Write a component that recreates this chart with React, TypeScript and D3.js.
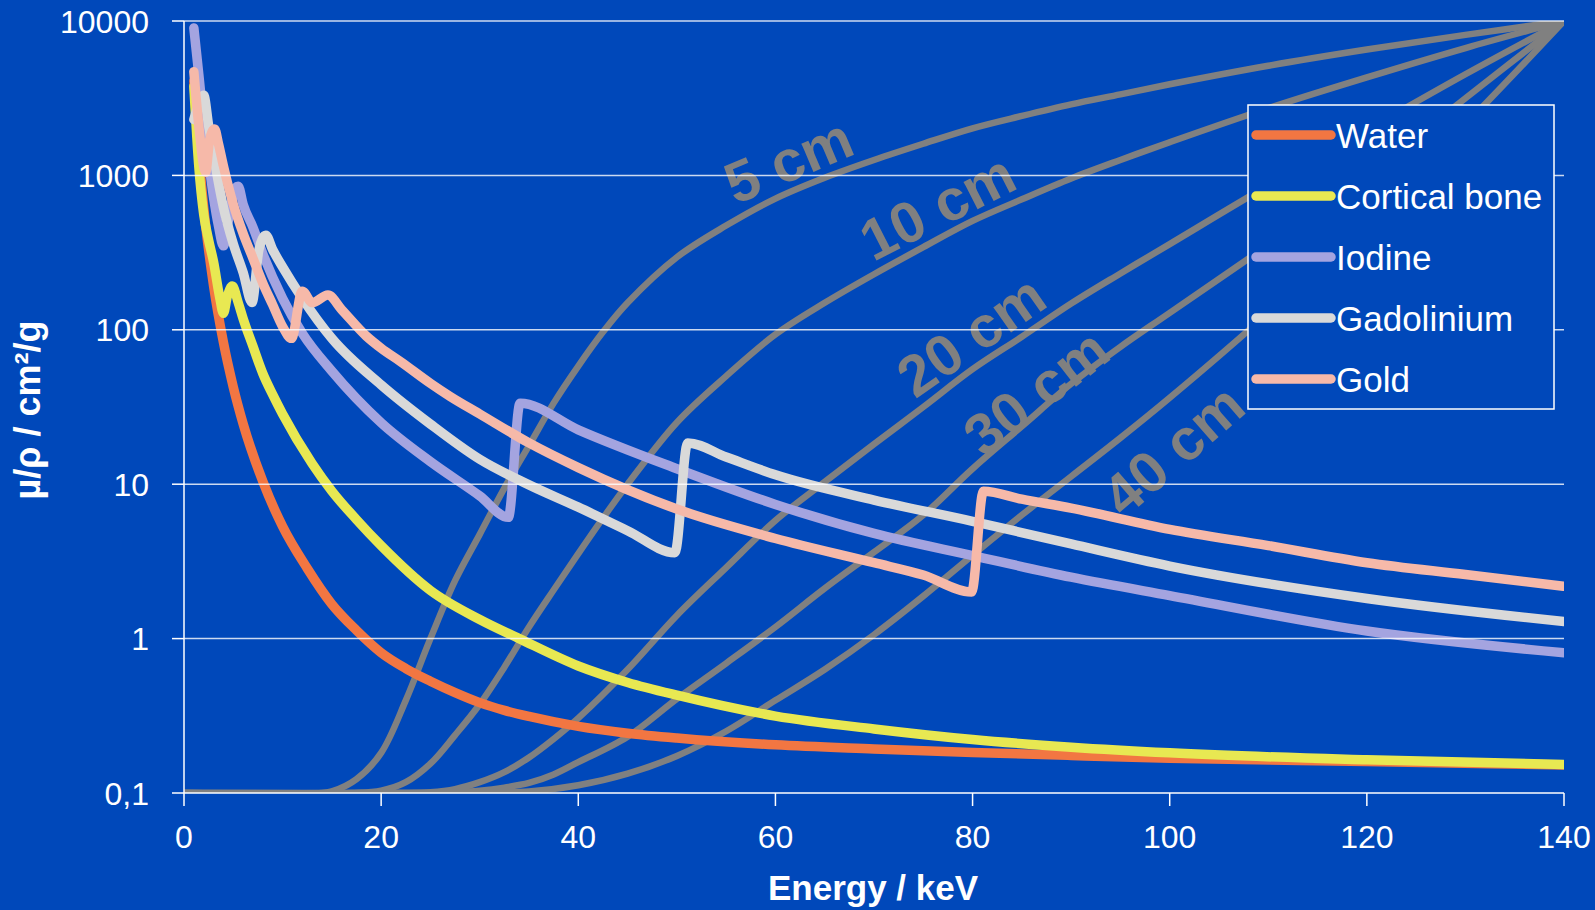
import React from "react";
import * as d3 from "d3";

// mass attenuation coefficient curves, [energy keV, mu/rho cm2/g]
const water: [number, number][] = [
  [1, 4078], [1.5, 1376], [2, 617], [3, 193], [4, 82.8], [5, 42.6], [6, 24.6], [8, 10.4], [10, 5.33],
  [12.5, 2.85], [15, 1.67], [17.5, 1.13], [20, 0.81], [22.5, 0.64], [25, 0.53], [27.5, 0.447], [30, 0.385],
  [32.5, 0.343], [35, 0.313], [40, 0.27], [45, 0.244], [50, 0.227], [60, 0.205], [70, 0.193], [80, 0.183],
  [90, 0.175], [100, 0.168], [120, 0.16], [140, 0.152],
];

const corticalBone: [number, number][] = [
  [1, 3781], [1.5, 1150], [2, 560], [2.5, 380], [3, 275], [3.6, 165], [4.0, 128], [4.4, 165], [4.9, 192],
  [5.5, 150], [6, 118], [7, 78], [8, 52], [9, 38], [10, 28.5], [13, 13.6], [15, 9.03], [17.5, 5.9], [20, 4.0],
  [25, 2.05], [30, 1.33], [34, 1.0], [40, 0.665], [45, 0.52], [50, 0.43], [60, 0.315], [70, 0.26], [80, 0.222],
  [90, 0.198], [100, 0.182], [120, 0.164], [140, 0.153],
];

const iodine: [number, number][] = [
  [1, 9000], [1.5, 4500], [2, 2200], [2.5, 1250], [3, 720], [3.5, 470], [4, 350], [4.6, 560], [5.2, 830],
  [5.5, 850], [6, 650], [7, 460], [8, 310], [10, 160], [12, 95], [15, 54], [20, 25], [25, 14.0], [30, 8.4],
  [32.9, 6.1], [34.1, 33.5], [40, 22.5], [50, 12.6], [60, 7.4], [70, 4.8], [80, 3.45], [90, 2.5], [100, 1.9],
  [120, 1.12], [140, 0.81],
];

const gadolinium: [number, number][] = [
  [1, 2300], [1.5, 2900], [2, 3300], [2.5, 2100], [3, 1350], [4, 620], [5, 360], [6, 235], [6.9, 150],
  [7.6, 330], [8.3, 410], [9, 330], [10, 255], [12, 160], [15, 88], [20, 44], [25, 24.5], [30, 14.5],
  [35, 9.9], [40, 7.1], [45, 5.0], [49.8, 3.6], [51.1, 18.5], [55, 15], [60, 11.5], [70, 7.9], [80, 5.75],
  [90, 4.1], [100, 2.95], [120, 1.82], [140, 1.29],
];

const gold: [number, number][] = [
  [1, 4700], [1.5, 2100], [2.2, 1050], [2.6, 1700], [3.1, 2000], [3.5, 1600], [4, 1150], [5, 650], [6, 420],
  [7, 290], [8, 200], [9, 145], [10, 105], [10.9, 88], [12.0, 178], [13.0, 150], [14.6, 168], [16, 135],
  [18.5, 91], [20, 76], [22, 62], [25, 45], [27, 37], [30, 28.5], [35, 18.5], [40, 12.8], [50, 6.9], [60, 4.45],
  [70, 3.1], [75, 2.58], [79.9, 2.0], [81.1, 9.0], [85, 8.0], [90, 7.0], [100, 5.1], [110, 4.0], [120, 3.1],
  [130, 2.6], [140, 2.18],
];

// relative transmission through water (secondary linear axis 0..1)
const trans5: [number, number][] = [
  [0, 0], [14, 0], [15, 0.002], [17.5, 0.018], [20, 0.052], [22.5, 0.12], [25, 0.2], [27.5, 0.275], [30, 0.335],
  [32.5, 0.395], [35, 0.45], [37.5, 0.505], [40, 0.553], [42.5, 0.597], [45, 0.635], [50, 0.694], [55, 0.735],
  [60, 0.77], [65, 0.797], [70, 0.82], [75, 0.841], [80, 0.861], [85, 0.877], [90, 0.892], [95, 0.905],
  [100, 0.918], [110, 0.942], [120, 0.963], [130, 0.982], [140, 1],
];
const trans10: [number, number][] = [
  [0, 0], [17, 0], [20, 0.003], [22.5, 0.014], [25, 0.038], [27.5, 0.075], [30, 0.115], [32.5, 0.163],
  [35, 0.215], [37.5, 0.263], [40, 0.31], [42.5, 0.356], [45, 0.4], [50, 0.48], [55, 0.54], [60, 0.594],
  [65, 0.635], [70, 0.672], [75, 0.707], [80, 0.741], [85, 0.769], [90, 0.796], [95, 0.82], [100, 0.843],
  [110, 0.887], [120, 0.927], [130, 0.965], [140, 1],
];
const trans20: [number, number][] = [
  [0, 0], [22, 0], [25, 0.001], [27.5, 0.005], [30, 0.014], [32.5, 0.027], [35, 0.046], [37.5, 0.07],
  [40, 0.097], [45, 0.16], [50, 0.23], [55, 0.292], [60, 0.353], [65, 0.403], [70, 0.452], [75, 0.5],
  [80, 0.549], [85, 0.591], [90, 0.634], [95, 0.673], [100, 0.711], [110, 0.787], [120, 0.859], [130, 0.931],
  [140, 1],
];
const trans30: [number, number][] = [
  [0, 0], [24, 0], [27.5, 0.001], [30, 0.003], [32.5, 0.007], [35, 0.013], [37.5, 0.024], [40, 0.04],
  [45, 0.073], [50, 0.122], [55, 0.168], [60, 0.215], [65, 0.265], [70, 0.312], [75, 0.36], [80, 0.42],
  [85, 0.475], [90, 0.53], [95, 0.578], [100, 0.622], [110, 0.71], [120, 0.8], [130, 0.9], [140, 1],
];
const trans40: [number, number][] = [
  [0, 0], [27, 0], [30, 0.0005], [35, 0.002], [40, 0.01], [45, 0.025], [50, 0.048], [55, 0.08], [60, 0.12],
  [65, 0.16], [70, 0.205], [75, 0.255], [80, 0.308], [85, 0.36], [90, 0.41], [95, 0.46], [100, 0.512],
  [110, 0.622], [120, 0.74], [130, 0.866], [140, 1],
];

const materialNames = ["Water", "Cortical bone", "Iodine", "Gadolinium", "Gold"];
const materialColors = ["#F27642", "#E8E852", "#A4A4E0", "#D9D9D9", "#F6B9A9"];
const materialSeries = [water, corticalBone, iodine, gadolinium, gold];

const depthLabels = ["5 cm", "10 cm", "20 cm", "30 cm", "40 cm"];
const depthSeries = [trans5, trans10, trans20, trans30, trans40];
// where each curve label sits (energy, transmission) and its tilt
const depthLabelPos = [
  { e: 61.3, t: 0.82, angle: -23 },
  { e: 76.4, t: 0.76, angle: -27 },
  { e: 79.8, t: 0.593, angle: -35 },
  { e: 86.4, t: 0.52, angle: -38 },
  { e: 100.3, t: 0.445, angle: -41 },
];

const energyTicks = [0, 20, 40, 60, 80, 100, 120, 140];
const muTicks = [0.1, 1, 10, 100, 1000, 10000];
const muTickLabels = ["0,1", "1", "10", "100", "1000", "10000"];

const W = 1595;
const H = 910;
const BG = "#0048BA";
const FONT = "'Liberation Sans', Arial, sans-serif";

export default function App() {
  const left = 184, right = 1564, top = 21, bottom = 793;
  const x = d3.scaleLinear().domain([0, 140]).range([left, right]);
  const y = d3.scaleLog().domain([0.1, 10000]).range([bottom, top]);
  const y2 = d3.scaleLinear().domain([0, 1]).range([bottom, top]);

  // monotone keeps the absorption edges as clean near-vertical steps
  const muLine = d3
    .line<[number, number]>()
    .x((d) => x(d[0]))
    .y((d) => y(d[1]))
    .curve(d3.curveMonotoneX);
  const tLine = d3
    .line<[number, number]>()
    .x((d) => x(d[0]))
    .y((d) => y2(d[1]))
    .curve(d3.curveCatmullRom.alpha(0.5));

  const legX = 1248, legY = 105, legW = 306, legH = 304;

  return (
    <svg width={W} height={H} style={{ position: "absolute", left: 0, top: 0, background: BG }} fontFamily={FONT}>
      <rect x={0} y={0} width={W} height={H} fill={BG} />
      <defs>
        <clipPath id="plot">
          <rect x={left} y={top} width={right - left} height={bottom - top} />
        </clipPath>
      </defs>

      {/* transmission curves */}
      <g clipPath="url(#plot)">
        {depthSeries.map((s, i) => (
          <path key={i} d={tLine(s)!} fill="none" stroke="#808080" strokeWidth={6.5} strokeLinejoin="round" />
        ))}
      </g>
      {depthLabels.map((lab, i) => {
        const p = depthLabelPos[i];
        return (
          <text
            key={lab}
            transform={`translate(${x(p.e)},${y2(p.t)}) rotate(${p.angle})`}
            textAnchor="middle"
            dy="0.36em"
            fontSize={58}
            fontWeight="bold"
            fill="#808080"
          >
            {lab}
          </text>
        );
      })}

      {/* material curves */}
      <g clipPath="url(#plot)">
        {materialSeries.map((s, i) => (
          <path
            key={materialNames[i]}
            d={muLine(s)!}
            fill="none"
            stroke={materialColors[i]}
            strokeWidth={9.5}
            strokeLinejoin="round"
            strokeLinecap="round"
          />
        ))}
      </g>

      {/* gridlines sit over the curves */}
      {muTicks.slice(1).map((t) => (
        <line key={t} x1={left} x2={right} y1={y(t)} y2={y(t)} stroke="#fff" strokeOpacity={0.8} strokeWidth={1.5} />
      ))}

      {/* axes */}
      <line x1={left} x2={left} y1={top} y2={bottom} stroke="#fff" strokeWidth={1.5} />
      <line x1={left} x2={right} y1={bottom} y2={bottom} stroke="#fff" strokeWidth={1.5} />
      {muTicks.map((t, i) => (
        <g key={t}>
          <line x1={left - 12} x2={left} y1={y(t)} y2={y(t)} stroke="#fff" strokeWidth={1.5} />
          <text x={149} y={y(t) + 11.5} textAnchor="end" fontSize={32} fill="#fff">
            {muTickLabels[i]}
          </text>
        </g>
      ))}
      {energyTicks.map((t) => (
        <g key={t}>
          <line x1={x(t)} x2={x(t)} y1={bottom} y2={bottom + 13} stroke="#fff" strokeWidth={1.5} />
          <text x={x(t)} y={848} textAnchor="middle" fontSize={32} fill="#fff">
            {t}
          </text>
        </g>
      ))}
      <text x={873} y={900} textAnchor="middle" fontSize={35} fontWeight="bold" fill="#fff">
        Energy / keV
      </text>
      <text transform="translate(40,410) rotate(-90)" textAnchor="middle" fontSize={36} fontWeight="bold" fill="#fff">
        µ/ρ / cm²/g
      </text>

      {/* legend */}
      <rect x={legX} y={legY} width={legW} height={legH} fill={BG} stroke="#fff" strokeWidth={1.5} />
      {materialNames.map((name, i) => {
        const ly = 135 + i * 61;
        return (
          <g key={name}>
            <line x1={1256} x2={1331} y1={ly} y2={ly} stroke={materialColors[i]} strokeWidth={9.5} strokeLinecap="round" />
            <text x={1336} y={ly + 12.5} fontSize={35} fill="#fff">
              {name}
            </text>
          </g>
        );
      })}
    </svg>
  );
}
